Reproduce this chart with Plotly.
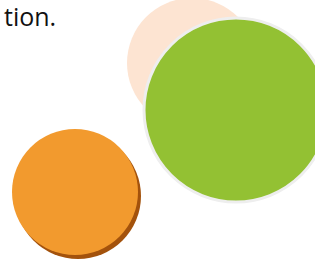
import plotly.graph_objects as go

# Bubble data (pixel-space coordinates on hidden axes)
names = ["Peach", "Orange", "Green"]
x_vals = [192, 75, 236]
y_vals = [63, 192, 110]
sizes = [130, 126, 184]
colors = ["#fde4d2", "#f29a2e", "#93c133"]
caption = "tion."

fig = go.Figure()

# Peach bubble
fig.add_trace(go.Scatter(x=[x_vals[0]], y=[y_vals[0]], mode="markers",
                         marker=dict(size=sizes[0], color=colors[0], line=dict(width=0)),
                         hoverinfo="skip", showlegend=False))
# Orange bubble shadow
fig.add_trace(go.Scatter(x=[x_vals[1] + 3], y=[y_vals[1] + 4], mode="markers",
                         marker=dict(size=sizes[1], color="#a3520c", line=dict(width=0)),
                         hoverinfo="skip", showlegend=False))
# Orange bubble
fig.add_trace(go.Scatter(x=[x_vals[1]], y=[y_vals[1]], mode="markers",
                         marker=dict(size=sizes[1], color=colors[1], line=dict(width=0)),
                         hoverinfo="skip", showlegend=False))
# Green bubble
fig.add_trace(go.Scatter(x=[x_vals[2]], y=[y_vals[2]], mode="markers",
                         marker=dict(size=sizes[2], color=colors[2], line=dict(width=3, color="#eeeeee")),
                         hoverinfo="skip", showlegend=False))

fig.add_annotation(text=caption, x=3, y=16, xref="x", yref="y", xanchor="left", yanchor="middle",
                   showarrow=False, borderpad=0,
                   font=dict(family="Open Sans, Arial, sans-serif", size=25, color="#111111"))

fig.update_layout(width=315, height=261, margin=dict(l=0, r=0, t=0, b=0),
                  paper_bgcolor="white", plot_bgcolor="white",
                  xaxis=dict(range=[0, 315], visible=False, fixedrange=True),
                  yaxis=dict(range=[261, 0], visible=False, fixedrange=True))

fig.write_html("out.html", config={"displayModeBar": False},
               post_script="document.body.style.margin='0';document.body.style.overflow='hidden';")
